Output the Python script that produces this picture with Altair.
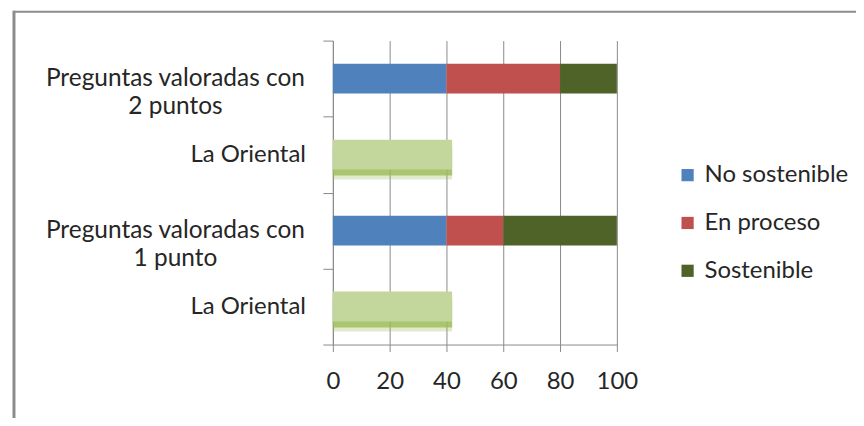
import altair as alt
import pandas as pd

cat_ids = ["p2", "lo2", "p1", "lo1"]
cat_labels = ["Preguntas valoradas con\n2 puntos", "La Oriental",
              "Preguntas valoradas con\n1 punto", "La Oriental"]
series = ["No sostenible", "En proceso", "Sostenible"]
no_sostenible = [40, 0, 40, 0]
en_proceso = [40, 0, 20, 0]
sostenible = [20, 0, 40, 0]
la_oriental = [0, 42, 0, 42]
x_ticks = [0, 20, 40, 60, 80, 100]
colors = ["#4f81bd", "#c0504d", "#4f6228"]

FONT = "Lato"
TXT = "#262626"
GRID = "#8a8a8a"

rows = []
for s_i, (s, vals) in enumerate(zip(series, [no_sostenible, en_proceso, sostenible])):
    for c, v in zip(cat_ids, vals):
        if v:
            rows.append({"cat": c, "serie": s, "val": v, "ord": s_i})
df_stack = pd.DataFrame(rows)
df_lo = pd.DataFrame([{"cat": c, "val": v} for c, v in zip(cat_ids, la_oriental) if v])
df_lab = pd.DataFrame([{"cat": c, "label": l, "multi": "\n" in l} for c, l in zip(cat_ids, cat_labels)])

yscale = alt.Scale(domain=cat_ids, paddingInner=0, paddingOuter=0)
xscale = alt.Scale(domain=[0, 100], nice=False)

y_enc = alt.Y("cat:N", scale=yscale, sort=cat_ids, title=None,
              axis=alt.Axis(labels=False, tickBand="extent", tickSize=10, tickColor=GRID,
                            domainColor=GRID, domainWidth=1, grid=False))
x_axis = alt.Axis(values=x_ticks, grid=True, gridColor=GRID, gridWidth=1,
                  tickColor=GRID, tickSize=7, domainColor=GRID,
                  labelFont=FONT, labelFontSize=24, labelColor=TXT,
                  labelPadding=18, labelFlush=False, labelOverlap=False)
x_enc = alt.X("val:Q", scale=xscale, title=None, axis=x_axis)

BAR_H = alt.RelativeBandSize(0.393)

stack = alt.Chart(df_stack).mark_bar(height=BAR_H).encode(
    y=y_enc,
    x=alt.X("val:Q", scale=xscale, stack="zero", title=None, axis=x_axis),
    color=alt.Color("serie:N", scale=alt.Scale(domain=series, range=colors),
                    legend=alt.Legend(orient="none", legendX=344, legendY=123, title=None,
                                      symbolType="square", symbolSize=150,
                                      symbolStrokeWidth=0, labelFont=FONT,
                                      labelFontSize=24, labelColor=TXT,
                                      rowPadding=24, labelOffset=5)),
    order=alt.Order("ord:Q"),
)

shadow2 = alt.Chart(df_lo).mark_bar(height=BAR_H, color="#9bbb59", opacity=0.3, yOffset=10).encode(y=y_enc, x=x_enc)
shadow = alt.Chart(df_lo).mark_bar(height=BAR_H, color="#9bbb59", opacity=0.8, yOffset=6).encode(y=y_enc, x=x_enc)
light = alt.Chart(df_lo).mark_bar(height=BAR_H, color="#c3d69b").encode(y=y_enc, x=x_enc)

lab_single = alt.Chart(df_lab).transform_filter("!datum.multi").mark_text(
    align="right", baseline="middle", font=FONT, fontSize=24, color=TXT
).encode(y=alt.Y("cat:N", scale=yscale, sort=cat_ids), x=alt.value(-27), text="label:N")

lab_multi = alt.Chart(df_lab).transform_filter("datum.multi").mark_text(
    align="center", baseline="middle", font=FONT, fontSize=24.5, color=TXT,
    lineBreak="\n", lineHeight=29
).encode(y=alt.Y("cat:N", scale=yscale, sort=cat_ids), x=alt.value(-158), text="label:N")

frame_v = alt.Chart(alt.Data(values=[{}])).mark_rule(color="#8c8c8c", strokeWidth=3).encode(
    x=alt.value(-320), y=alt.value(-30), y2=alt.value(400))
frame_h = alt.Chart(alt.Data(values=[{}])).mark_rule(color="#8c8c8c", strokeWidth=2).encode(
    x=alt.value(-321), x2=alt.value(540), y=alt.value(-29))

chart = alt.layer(shadow2, shadow, light, stack, lab_single, lab_multi, frame_v, frame_h).properties(
    width=285, height=305,
    padding={"left": 326, "top": 32, "right": 240, "bottom": 73},
    autosize=alt.AutoSizeParams(type="none"),
).configure_view(stroke=None)

chart.save("out.html", embed_options={"renderer": "svg", "actions": False})
